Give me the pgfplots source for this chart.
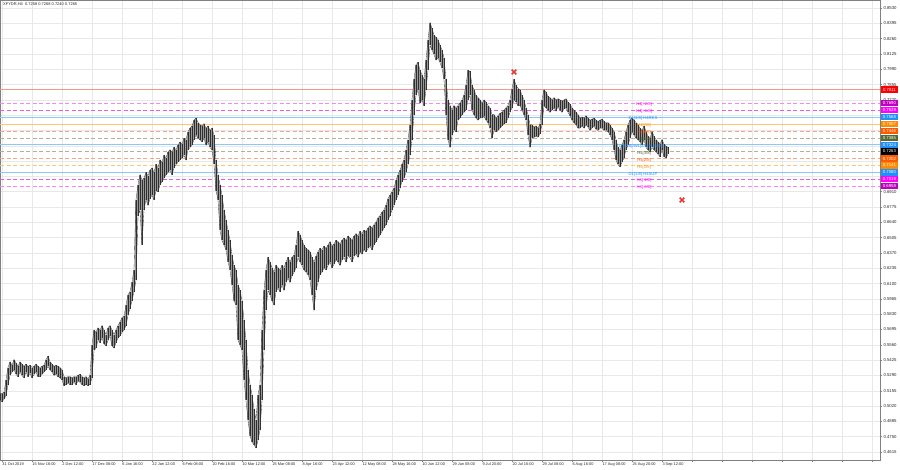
\documentclass[border=0pt]{standalone}
\usepackage{fontspec}
\setmainfont{Liberation Sans}
\usepackage{pgfplots}
\pgfplotsset{compat=1.18}
\usepackage{pgfplotstable}
\definecolor{lvRed}{HTML}{FF0000}
\definecolor{lvViol}{HTML}{C000C0}
\definecolor{lvMag}{HTML}{FF00FF}
\definecolor{lvBlue}{HTML}{1E90FF}
\definecolor{lvOrg}{HTML}{FF8C00}
\definecolor{lvOrgR}{HTML}{FF5A00}
\definecolor{lvOlive}{HTML}{556B2F}
\definecolor{lnRed}{HTML}{EE9A8A}
\definecolor{lnViol}{HTML}{F08CF0}
\definecolor{lnMag}{HTML}{E060E0}
\definecolor{lnBlue}{HTML}{8CC8F5}
\definecolor{lnOrg}{HTML}{FFC870}
\definecolor{lnOrgR}{HTML}{F4A585}
\definecolor{lnOlive}{HTML}{B4B094}
\definecolor{xred}{HTML}{E53935}

\pgfplotstableread{
x hi lo
0 0.513 0.507
2 0.513 0.506
4 0.514 0.508
6 0.525 0.511
8 0.536 0.521
10 0.541 0.529
12 0.538 0.532
14 0.543 0.534
16 0.540 0.530
18 0.537 0.528
20 0.541 0.532
22 0.539 0.529
24 0.537 0.527
26 0.539 0.532
28 0.537 0.528
30 0.538 0.531
32 0.536 0.527
34 0.537 0.530
36 0.539 0.532
38 0.537 0.528
40 0.536 0.528
42 0.537 0.530
44 0.538 0.532
46 0.543 0.534
48 0.546 0.537
50 0.541 0.534
52 0.539 0.532
54 0.537 0.529
56 0.538 0.530
58 0.537 0.528
60 0.536 0.527
62 0.534 0.525
64 0.528 0.520
66 0.527 0.521
68 0.528 0.522
70 0.528 0.521
72 0.527 0.521
74 0.528 0.523
76 0.528 0.521
78 0.529 0.524
80 0.530 0.523
82 0.528 0.521
84 0.527 0.520
86 0.528 0.521
88 0.526 0.520
90 0.529 0.521
92 0.556 0.527
94 0.569 0.551
96 0.567 0.553
98 0.571 0.560
100 0.569 0.558
102 0.573 0.562
104 0.569 0.557
106 0.565 0.555
108 0.571 0.560
110 0.573 0.564
112 0.569 0.555
114 0.565 0.553
116 0.569 0.558
118 0.573 0.562
120 0.576 0.564
122 0.580 0.567
124 0.581 0.569
126 0.591 0.573
128 0.600 0.582
130 0.603 0.588
132 0.611 0.595
134 0.622 0.603
136 0.684 0.613
138 0.697 0.670
140 0.706 0.675
142 0.701 0.644
144 0.703 0.675
146 0.708 0.684
148 0.705 0.679
150 0.710 0.685
152 0.712 0.688
154 0.708 0.684
156 0.715 0.692
158 0.712 0.691
160 0.719 0.697
162 0.717 0.700
164 0.723 0.703
166 0.721 0.706
168 0.726 0.708
170 0.728 0.710
172 0.726 0.706
174 0.730 0.712
176 0.728 0.715
178 0.732 0.717
180 0.735 0.719
182 0.733 0.721
184 0.738 0.723
186 0.737 0.719
188 0.744 0.728
190 0.747 0.730
192 0.749 0.732
194 0.754 0.737
196 0.756 0.741
198 0.752 0.738
200 0.750 0.737
202 0.749 0.735
204 0.751 0.738
206 0.747 0.732
208 0.749 0.735
210 0.745 0.730
212 0.747 0.728
214 0.741 0.715
216 0.719 0.692
218 0.706 0.684
220 0.697 0.657
222 0.688 0.648
224 0.675 0.644
226 0.666 0.640
228 0.657 0.629
230 0.648 0.622
232 0.635 0.609
234 0.626 0.595
236 0.622 0.591
238 0.609 0.560
240 0.604 0.556
242 0.595 0.551
244 0.578 0.525
246 0.560 0.507
248 0.534 0.490
250 0.521 0.476
252 0.512 0.470
254 0.499 0.468
256 0.490 0.465
258 0.512 0.472
260 0.521 0.481
262 0.569 0.507
264 0.604 0.551
266 0.622 0.587
268 0.633 0.604
270 0.629 0.600
272 0.624 0.595
274 0.620 0.591
276 0.626 0.603
278 0.624 0.606
280 0.622 0.603
282 0.626 0.609
284 0.624 0.604
286 0.629 0.611
288 0.633 0.615
290 0.629 0.611
292 0.633 0.617
294 0.635 0.620
296 0.644 0.624
298 0.656 0.633
300 0.653 0.629
302 0.648 0.626
304 0.644 0.622
306 0.641 0.620
308 0.640 0.618
310 0.638 0.613
312 0.633 0.600
314 0.629 0.587
316 0.634 0.604
318 0.638 0.611
320 0.641 0.618
322 0.640 0.620
324 0.643 0.624
326 0.641 0.622
328 0.644 0.626
330 0.647 0.629
332 0.643 0.624
334 0.645 0.627
336 0.648 0.631
338 0.647 0.629
340 0.645 0.626
342 0.648 0.631
344 0.650 0.633
346 0.648 0.629
348 0.652 0.634
350 0.650 0.633
352 0.648 0.629
354 0.652 0.634
356 0.654 0.636
358 0.652 0.633
360 0.656 0.638
362 0.654 0.636
364 0.657 0.640
366 0.656 0.638
368 0.659 0.641
370 0.661 0.643
372 0.659 0.640
374 0.662 0.644
376 0.664 0.647
378 0.668 0.650
380 0.670 0.653
382 0.673 0.656
384 0.675 0.659
386 0.679 0.662
388 0.685 0.666
390 0.688 0.670
392 0.691 0.675
394 0.694 0.679
396 0.701 0.684
398 0.706 0.688
400 0.710 0.694
402 0.715 0.700
404 0.719 0.703
406 0.728 0.708
408 0.737 0.715
410 0.750 0.723
412 0.772 0.737
414 0.790 0.759
416 0.803 0.776
418 0.805 0.781
420 0.798 0.769
422 0.794 0.772
424 0.790 0.767
426 0.807 0.781
428 0.825 0.798
430 0.840 0.820
432 0.835 0.816
434 0.829 0.812
436 0.827 0.807
438 0.825 0.809
440 0.820 0.805
442 0.816 0.800
444 0.809 0.790
446 0.790 0.759
448 0.772 0.737
450 0.767 0.730
452 0.763 0.741
454 0.767 0.745
456 0.765 0.744
458 0.767 0.754
460 0.769 0.756
462 0.772 0.759
464 0.776 0.761
466 0.785 0.763
468 0.798 0.772
470 0.797 0.776
472 0.785 0.763
474 0.781 0.759
476 0.776 0.756
478 0.774 0.754
480 0.772 0.756
482 0.769 0.756
484 0.772 0.758
486 0.770 0.754
488 0.767 0.752
490 0.765 0.747
492 0.759 0.738
494 0.759 0.745
496 0.756 0.744
498 0.758 0.745
500 0.760 0.747
502 0.761 0.749
504 0.763 0.751
506 0.765 0.752
508 0.767 0.756
510 0.772 0.761
512 0.782 0.765
514 0.790 0.772
516 0.785 0.770
518 0.782 0.767
520 0.781 0.767
522 0.776 0.763
524 0.772 0.759
526 0.765 0.754
528 0.759 0.741
530 0.750 0.730
532 0.750 0.738
534 0.748 0.739
536 0.749 0.740
538 0.747 0.739
540 0.751 0.742
542 0.772 0.750
544 0.781 0.767
546 0.779 0.765
548 0.775 0.763
550 0.774 0.761
552 0.772 0.763
554 0.774 0.765
556 0.772 0.762
558 0.773 0.766
560 0.772 0.763
562 0.771 0.761
564 0.772 0.764
566 0.773 0.765
568 0.770 0.761
570 0.768 0.758
572 0.765 0.754
574 0.763 0.752
576 0.761 0.750
578 0.759 0.747
580 0.756 0.747
582 0.757 0.749
584 0.756 0.747
586 0.758 0.750
588 0.756 0.748
590 0.754 0.745
592 0.755 0.747
594 0.756 0.749
596 0.754 0.746
598 0.753 0.745
600 0.754 0.747
602 0.755 0.747
604 0.753 0.745
606 0.752 0.745
608 0.752 0.744
610 0.750 0.741
612 0.747 0.737
614 0.744 0.728
616 0.737 0.719
618 0.730 0.715
620 0.728 0.713
622 0.732 0.717
624 0.737 0.721
626 0.744 0.728
628 0.750 0.732
630 0.754 0.738
632 0.756 0.744
634 0.754 0.741
636 0.752 0.738
638 0.750 0.737
640 0.747 0.735
642 0.745 0.732
644 0.749 0.737
646 0.744 0.730
648 0.740 0.728
650 0.738 0.726
652 0.744 0.730
654 0.740 0.728
656 0.737 0.726
658 0.735 0.724
660 0.733 0.722
662 0.737 0.728
664 0.733 0.722
666 0.731 0.721
668 0.730 0.724
}\candles

\begin{document}
\begin{tikzpicture}
\begin{axis}[
  at={(0,0)}, anchor=south west,
  scale only axis, width=880bp, height=460bp,
  xmin=0, xmax=880, ymin=0.45444, ymax=0.86005,
  clip mode=individual,
  axis line style={draw=black!50, line width=0.6bp},
  grid=major, grid style={draw=black!9, line width=0.5bp},
  xtick={2,32,62,92,122,152,182,212,242,272,302,332,362,392,422,452,482,512,542,572,602,632,662,692,722,752,782,812,842,872},
  xticklabels={31 Oct 2019,15 Nov 16:00,2 Dec 12:00,17 Dec 08:00,6 Jan 16:00,22 Jan 12:00,6 Feb 08:00,20 Feb 16:00,10 Mar 12:00,25 Mar 08:00,8 Apr 16:00,23 Apr 12:00,12 May 08:00,28 May 16:00,10 Jun 12:00,29 Jun 08:00,9 Jul 20:00,20 Jul 16:00,29 Jul 08:00,6 Aug 16:00,17 Aug 08:00,25 Aug 20:00,3 Sep 12:00,,,,,,,},
  xticklabel style={anchor=north west, font=\fontsize{3.9}{4}\selectfont, text=black!85, inner sep=0.8bp, xshift=-0.5bp},
  ytick={0.4615,0.4750,0.4885,0.5020,0.5155,0.5290,0.5425,0.5560,0.5695,0.5830,0.5965,0.6100,0.6235,0.6370,0.6505,0.6640,0.6775,0.6910,0.7045,0.7180,0.7315,0.7450,0.7585,0.7720,0.7855,0.7990,0.8125,0.8260,0.8395,0.8530},
  yticklabels={0.4615,0.4750,0.4885,0.5020,0.5155,0.5290,0.5425,0.5560,0.5695,0.5830,0.5965,0.6100,0.6235,0.6370,0.6505,0.6640,0.6775,0.6910,,,,,,0.7720,0.7855,0.7990,0.8125,0.8260,0.8395,0.8530},
  yticklabel pos=right,
  yticklabel style={font=\fontsize{4.3}{4.5}\selectfont, text=black!85, anchor=west, inner sep=0.8bp, xshift=1bp},
  tick align=outside, major tick length=1.5bp,
  tick style={draw=black!50, line width=0.5bp},
  xtick pos=bottom, ytick pos=right,
]
% level lines
\addplot[lnRed, line width=0.6bp] coordinates {(0,0.7811) (880,0.7811)};
\addplot[lnViol, line width=0.6bp, dash pattern=on 4bp off 2.5bp] coordinates {(0,0.7690) (880,0.7690)};
\addplot[lnMag, line width=0.6bp, dash pattern=on 4bp off 2.5bp] coordinates {(0,0.7629) (880,0.7629)};
\addplot[lnBlue, line width=0.6bp] coordinates {(0,0.7568) (880,0.7568)};
\addplot[lnOrg, line width=0.6bp] coordinates {(0,0.7507) (880,0.7507)};
\addplot[lnOrgR, line width=0.6bp, dash pattern=on 4bp off 2.5bp] coordinates {(0,0.7446) (880,0.7446)};
\addplot[lnOlive, line width=0.6bp, dash pattern=on 4bp off 2.5bp] coordinates {(0,0.7385) (880,0.7385)};
\addplot[lnBlue, line width=0.6bp] coordinates {(0,0.7324) (880,0.7324)};
\addplot[lnOlive, line width=0.6bp, dash pattern=on 4bp off 2.5bp] coordinates {(0,0.7263) (880,0.7263)};
\addplot[lnOrgR, line width=0.6bp, dash pattern=on 4bp off 2.5bp] coordinates {(0,0.7202) (880,0.7202)};
\addplot[lnOrg, line width=0.6bp, dash pattern=on 4bp off 2.5bp] coordinates {(0,0.7141) (880,0.7141)};
\addplot[lnBlue, line width=0.6bp] coordinates {(0,0.7080) (880,0.7080)};
\addplot[lnMag, line width=0.6bp, dash pattern=on 4bp off 2.5bp] coordinates {(0,0.7019) (880,0.7019)};
\addplot[lnViol, line width=0.6bp, dash pattern=on 4bp off 2.5bp] coordinates {(0,0.6958) (880,0.6958)};
% price bars
\addplot[draw=none, mark=none, error bars/.cd, y dir=minus, y explicit, error mark=none,
  error bar style={draw=black!40, solid, line width=2.1bp}]
  table[x=x, y=hi, y error expr=\thisrow{hi}-\thisrow{lo}] {\candles};
\addplot[draw=none, mark=none, error bars/.cd, y dir=minus, y explicit, error mark=none,
  error bar style={draw=black!82, solid, line width=0.55bp}]
  table[x=x, y=hi, y error expr=\thisrow{hi}-\thisrow{lo}] {\candles};
\addplot[black!78, mark=none, line width=0.35bp] table[x=x, y=lo] {\candles};
\addplot[black!78, mark=none, line width=0.35bp] table[x=x, y=hi] {\candles};
% markers
\addplot[only marks, mark=x, mark size=3.3bp, xred, line width=1.5bp] coordinates {(514,0.7966) (682,0.6837)};
% level texts
\begin{scope}[every node/.style={font=\fontsize{4.2}{4.4}\selectfont, inner sep=0pt, yshift=-1.5bp}]
\node[text=lvMag] at (axis cs:644,0.7690) {H4[+2/8]};
\node[text=lvMag] at (axis cs:644,0.7629) {H4[+1/8]};
\node[text=lvBlue] at (axis cs:643,0.7568) {D1[3/8] H4RES};
\node[text=lvOrg] at (axis cs:644,0.7507) {H4[7/8]};
\node[text=lvOrgR] at (axis cs:644,0.7446) {H4[6/8]};
\node[text=lvOlive] at (axis cs:644,0.7385) {H4[5/8]};
\node[text=lvBlue] at (axis cs:641,0.7324) {D1[2/8]/W1[2/8] H4[4/8]};
\node[text=lvOlive] at (axis cs:644,0.7263) {H4[3/8]};
\node[text=lvOrgR] at (axis cs:644,0.7202) {H4[2/8]};
\node[text=lvOrg] at (axis cs:644,0.7141) {H4[1/8]};
\node[text=lvBlue] at (axis cs:643,0.7080) {D1[1/8] H4SUP};
\node[text=lvMag] at (axis cs:644,0.7019) {H4[-1/8]};
\node[text=lvMag] at (axis cs:644,0.6958) {H4[-2/8]};
\end{scope}
% right price labels
\begin{scope}[every node/.style={font=\fontsize{4.3}{4.5}\selectfont, text=white, anchor=west, inner sep=0pt, minimum width=17.5bp, minimum height=6.2bp}]
\node[fill=lvRed] at (axis cs:880.5,0.7811) {0.7811};
\node[fill=lvViol] at (axis cs:880.5,0.7690) {0.7690};
\node[fill=lvMag] at (axis cs:880.5,0.7629) {0.7629};
\node[fill=lvBlue] at (axis cs:880.5,0.7568) {0.7568};
\node[fill=lvOrg] at (axis cs:880.5,0.7507) {0.7507};
\node[fill=lvOrgR] at (axis cs:880.5,0.7446) {0.7446};
\node[fill=lvOlive] at (axis cs:880.5,0.7385) {0.7385};
\node[fill=lvBlue] at (axis cs:880.5,0.7324) {0.7324};
\node[fill=black] at (axis cs:880.5,0.7265) {0.7263};
\node[fill=lvOrgR] at (axis cs:880.5,0.7202) {0.7202};
\node[fill=lvOrg] at (axis cs:880.5,0.7141) {0.7141};
\node[fill=lvBlue] at (axis cs:880.5,0.7080) {0.7080};
\node[fill=lvMag] at (axis cs:880.5,0.7019) {0.7019};
\node[fill=lvViol] at (axis cs:880.5,0.6958) {0.6958};
\end{scope}
\node[anchor=north west, inner sep=0pt, font=\fontsize{4}{4.2}\selectfont, text=black!85] at ([xshift=3bp,yshift=-2.5bp]rel axis cs:0,1) {XFYDR,H4\ \ 0.7258 0.7268 0.7240 0.7265};
\end{axis}
\pgfresetboundingbox
\path[use as bounding box] (0,-10bp) rectangle (900bp,460bp);
\end{tikzpicture}
\end{document}
